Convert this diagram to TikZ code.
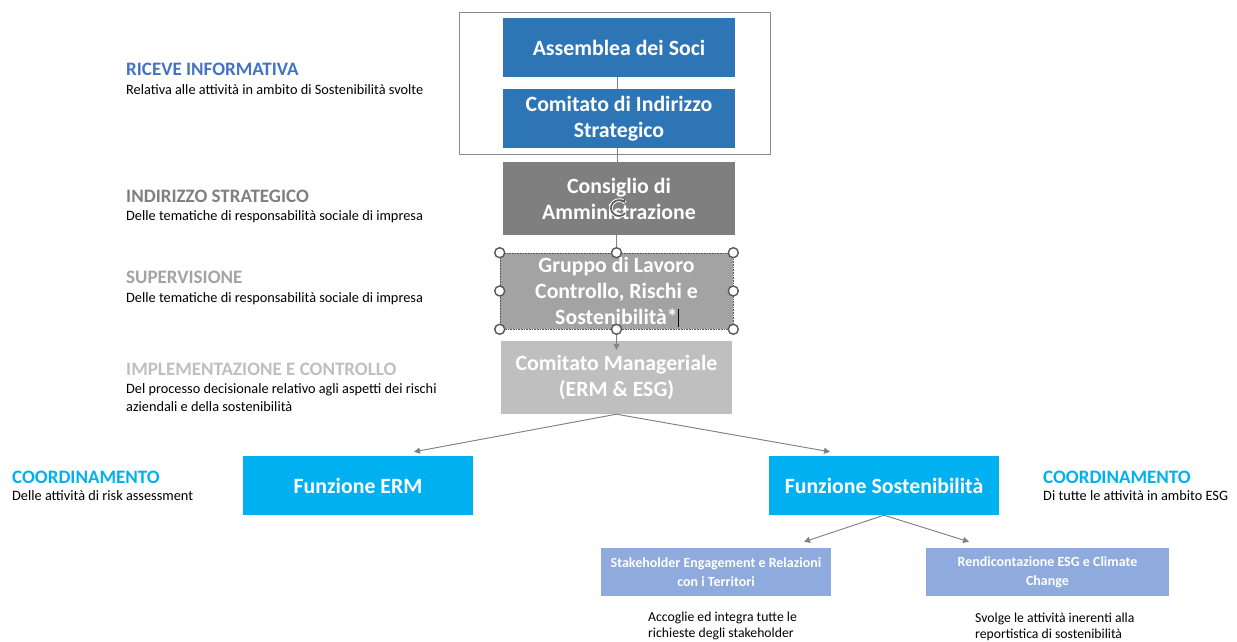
\documentclass[tikz,border=0pt]{standalone}
\usepackage{fontspec}
\setmainfont{Carlito}
\usetikzlibrary{arrows.meta,calc}
\definecolor{blueA}{HTML}{2E75B6}
\definecolor{blueH}{HTML}{4472C4}
\definecolor{grayA}{HTML}{7F7F7F}
\definecolor{grayB}{HTML}{A3A3A3}
\definecolor{grayC}{HTML}{BFBFBF}
\definecolor{cyanA}{HTML}{00B0F0}
\definecolor{lblue}{HTML}{8FAADC}
\definecolor{handle}{HTML}{595959}
\definecolor{conn}{HTML}{808080}
\begin{document}
\begin{tikzpicture}[x=1pt,y=-1pt,
  box/.style={rectangle, inner sep=0pt, text=white, align=center,
    font=\bfseries\fontsize{21.8}{26}\selectfont},
  smallbox/.style={rectangle, inner sep=0pt, text=white, align=center,
    font=\bfseries\fontsize{14}{19}\selectfont},
  lhead/.style={anchor=base west, inner sep=0pt, font=\bfseries\fontsize{19}{22}\selectfont},
  lsub/.style={anchor=base west, inner sep=0pt, align=left, text=black,
    font=\fontsize{14.3}{17.5}\selectfont},
  desc/.style={anchor=base west, inner sep=0pt, align=left, text=black,
    font=\fontsize{13.7}{16}\selectfont},
  line/.style={draw=conn, line width=0.9pt},
  arr/.style={draw=conn, line width=0.9pt, -{Triangle[width=6pt,length=6pt]}, fill=conn},
  handlec/.style={circle, draw=handle, fill=white, line width=1.4pt, minimum size=10pt, inner sep=0pt}
]
\useasboundingbox (0,0) rectangle (1237,642);

% outer frame
\node[draw=conn!90, line width=0.9pt, minimum width=311, minimum height=142, inner sep=0pt] (frame) at (614.5,83) {};

% main chain
\node[box, fill=blueA, minimum width=232, minimum height=59] (asm) at (619,47.5) {Assemblea dei Soci};
\node[box, fill=blueA, minimum width=232, minimum height=59] (cis) at (619,118.5) {Comitato di Indirizzo\\Strategico};
\node[box, fill=grayA, minimum width=232, minimum height=73] (cda) at (619,198.5) {Consiglio di\\Amministrazione};
\node[box, fill=grayB, minimum width=233, minimum height=76, draw=handle, densely dotted, line width=0.6pt] (grp) at (616.5,291) {Gruppo di Lavoro\\Controllo, Rischi e\\Sostenibilità*};
\node[box, fill=grayC, minimum width=231, minimum height=73] (cm) at (616.5,377.5) {Comitato Manageriale\\(ERM \& ESG)};

\node[box, fill=cyanA, minimum width=230, minimum height=59] (erm) at (358,485.5) {Funzione ERM};
\node[box, fill=cyanA, minimum width=230, minimum height=59] (fs) at (884,485.5) {Funzione Sostenibilità};

\node[smallbox, fill=lblue, minimum width=230, minimum height=48] (seg) at (716,572) {Stakeholder Engagement e Relazioni\\con i Territori};
\node[smallbox, fill=lblue, minimum width=243, minimum height=48] (rend) at (1047.5,572) {Rendicontazione ESG e Climate\\Change};

% connectors (vertical trunk at x = 617)
\draw[line] ([xshift=-2pt]asm.south) -- ([xshift=-2pt]cis.north);
\draw[line] ([xshift=-2pt]cis.south) -- ([xshift=-2pt]cda.north);
\draw[line] (grp.north |- cda.south) -- (grp.north);
\coordinate (tcm) at ($(cm.north)+(0,9)$);
\draw[arr] (grp.south) -- (tcm);
\coordinate (term) at ($(erm.north)+(56,-4)$);
\coordinate (tfs) at ($(fs.north)+(-54,-4)$);
\draw[arr] (cm.south) -- (term);
\draw[arr] (cm.south) -- (tfs);
\coordinate (tseg) at ($(seg.north)+(88,-6)$);
\coordinate (trend) at ($(rend.north)+(-78.5,-6)$);
\draw[arr] (fs.south) -- (tseg);
\draw[arr] (fs.south) -- (trend);

% selection handles
\foreach \a in {north west,north,north east,west,east,south west,south,south east}
  \node[handlec] at (grp.\a) {};
% text cursor
\draw[black, line width=0.7pt] (678,309) -- (678,327);
% rotation icon
\draw[white, line width=3.6pt] (619,208) ++(40:8) arc (40:320:8);
\draw[handle, line width=1.7pt, -{Stealth[length=4pt,width=5pt]}] (619,208) ++(40:8) arc (40:320:8);

% left labels
\node[lhead, text=blueH] (h1) at (126,76) {RICEVE INFORMATIVA};
\node[lsub] (s1) at (126,94) {Relativa alle attività in ambito di Sostenibilità svolte};
\node[lhead, text=grayA] (h2) at (126,202) {INDIRIZZO STRATEGICO};
\node[lsub] (s2) at (126,220) {Delle tematiche di responsabilità sociale di impresa};
\node[lhead, text=grayB] (h3) at (126,283) {SUPERVISIONE};
\node[lsub] (s3) at (126,302) {Delle tematiche di responsabilità sociale di impresa};
\node[lhead, text=grayC] (h4) at (126,375) {IMPLEMENTAZIONE E CONTROLLO};
\node[lsub] (s4) at (126,411) {Del processo decisionale relativo agli aspetti dei rischi\\aziendali e della sostenibilità};

\node[lhead, text=cyanA] (h5) at (12,483) {COORDINAMENTO};
\node[lsub] (s5) at (12,500) {Delle attività di risk assessment};
\node[lhead, text=cyanA] (h6) at (1043,483) {COORDINAMENTO};
\node[lsub] (s6) at (1043,500) {Di tutte le attività in ambito ESG};

% descriptions
\node[desc] (d1) at (648,637) {Accoglie ed integra tutte le\\richieste degli stakeholder};
\node[desc] (d2) at (975,638) {Svolge le attività inerenti alla\\reportistica di sostenibilità};
\end{tikzpicture}
\end{document}
